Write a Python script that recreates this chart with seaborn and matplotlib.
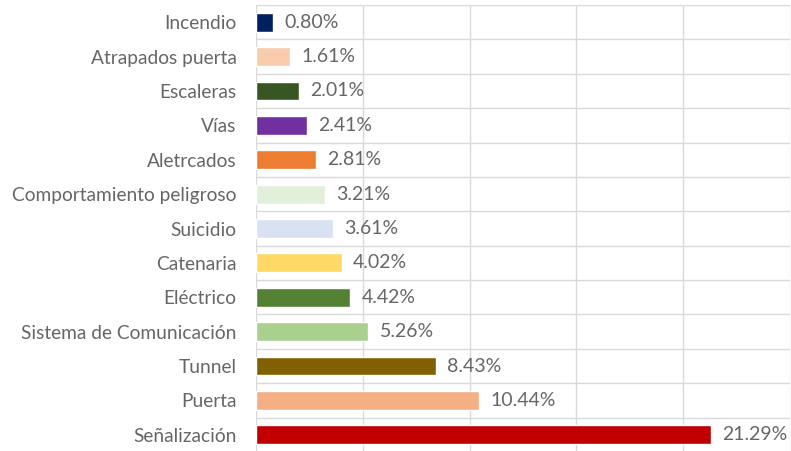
import matplotlib
matplotlib.use("Agg")
import matplotlib.pyplot as plt
import seaborn as sns
import pandas as pd

categories = [
    "Incendio", "Atrapados puerta", "Escaleras", "Vías", "Aletrcados",
    "Comportamiento peligroso", "Suicidio", "Catenaria", "Eléctrico",
    "Sistema de Comunicación", "Tunnel", "Puerta", "Señalización",
]
values = [0.80, 1.61, 2.01, 2.41, 2.81, 3.21, 3.61, 4.02, 4.42, 5.26, 8.43, 10.44, 21.29]
colors = [
    "#002060", "#F8CBAD", "#375623", "#7030A0", "#ED7D31", "#E2EFDA", "#D9E1F2",
    "#FFD966", "#548235", "#A9D08E", "#806000", "#F4B084", "#C00000",
]

df = pd.DataFrame({"categoria": categories, "porcentaje": values})

sns.set_theme(style="white")
plt.rcParams["font.family"] = ["Lato", "DejaVu Sans"]

fig = plt.figure(figsize=(7.91, 4.51), dpi=100)
ax = fig.add_axes([256 / 791, -1 / 451, 534 / 791, 447 / 451])

sns.barplot(data=df, y="categoria", x="porcentaje", hue="categoria",
            palette=colors, orient="h", width=0.55, legend=False, ax=ax,
            saturation=1)

ax.set_xlim(0, 25)
ax.set_ylim(len(categories) - 0.5, -0.5)
ax.set_xticks([0, 5, 10, 15, 20, 25])
ax.set_yticks([i + 0.5 for i in range(-1, len(categories))], minor=True)
ax.grid(axis="x", color="#D9D9D9", linewidth=1)
ax.grid(axis="y", which="minor", color="#D9D9D9", linewidth=1)
ax.set_axisbelow(True)
ax.tick_params(axis="x", labelbottom=False, length=0)
ax.tick_params(axis="y", which="major", length=0, pad=14, labelsize=13.8, labelcolor="#666666")
ax.tick_params(axis="y", which="minor", length=0)
ax.set_xlabel("")
ax.set_ylabel("")
for s in ax.spines.values():
    s.set_visible(False)

for i, v in enumerate(values):
    ax.annotate(f"{v:.2f}%", (v, i), xytext=(8, 0), textcoords="offset points",
                va="center", ha="left", fontsize=14, color="#666666")

fig.savefig("out.png", dpi=100)
